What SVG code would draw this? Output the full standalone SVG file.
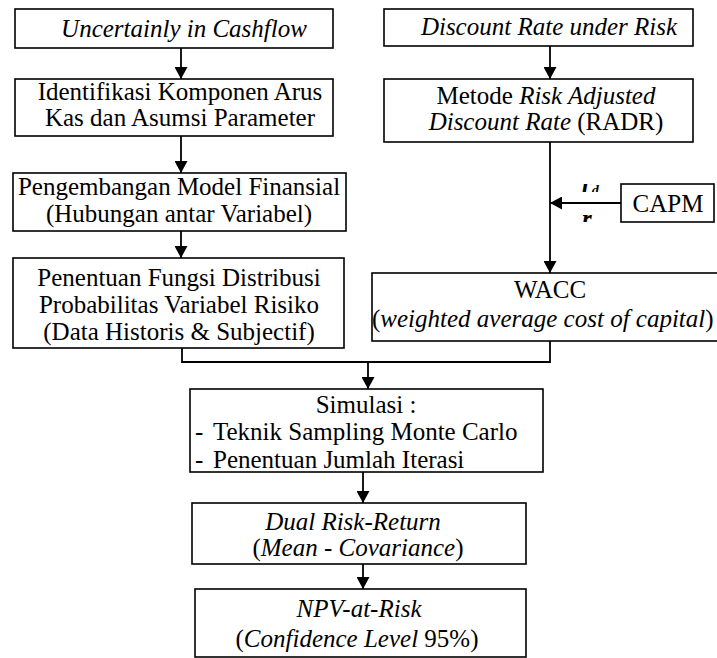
<svg xmlns="http://www.w3.org/2000/svg" width="717" height="658" viewBox="0 0 717 658">
<style>
.box{fill:#fff;stroke:#000;stroke-width:1.6}
.t{font-family:'Liberation Serif','Times New Roman',serif;font-size:25px;fill:#000;text-anchor:middle}
.l{text-anchor:start}
.i{font-style:italic}
.c{fill:none;stroke:#000;stroke-width:1.8}
</style>
<defs>
<marker id="ah" markerUnits="userSpaceOnUse" markerWidth="13" markerHeight="13" viewBox="0 0 12 13" refX="12" refY="6.5" orient="auto">
<path d="M0,0 L12,6.5 L0,13 z" fill="#000"/>
</marker>
<clipPath id="clipTop"><rect x="570" y="184" width="40" height="8"/></clipPath>
<clipPath id="clipBot"><rect x="570" y="211" width="40" height="11"/></clipPath>
</defs>

<g id="connectors">
<line class="c" x1="181" y1="48" x2="181" y2="79" marker-end="url(#ah)"/>
<line class="c" x1="181" y1="136" x2="181" y2="173" marker-end="url(#ah)"/>
<line class="c" x1="181" y1="231" x2="181" y2="258" marker-end="url(#ah)"/>
<line class="c" x1="550" y1="46" x2="550" y2="79" marker-end="url(#ah)"/>
<line class="c" x1="550" y1="142" x2="550" y2="273" marker-end="url(#ah)"/>
<line class="c" x1="621" y1="203" x2="550" y2="203" marker-end="url(#ah)"/>
<polyline class="c" points="182,348 182,362 550,362 550,341"/>
<line class="c" x1="368" y1="362" x2="368" y2="389" marker-end="url(#ah)"/>
<line class="c" x1="363" y1="472" x2="363" y2="503" marker-end="url(#ah)"/>
<line class="c" x1="363" y1="564" x2="363" y2="589" marker-end="url(#ah)"/>
<g clip-path="url(#clipTop)"><text class="t i l" x="582" y="192" font-weight="bold" font-size="22">r<tspan font-size="14" dy="3">d</tspan></text></g>
<g clip-path="url(#clipBot)"><text class="t i l" x="582" y="227" font-weight="bold" font-size="22">r<tspan font-size="14" dy="3">e</tspan></text></g>
</g>

<g id="uncertainty">
<rect class="box" x="15" y="9" width="318" height="39"/>
<text class="t i" x="184" y="37">Uncertainly in Cashflow</text>
</g>
<g id="identifikasi">
<rect class="box" x="15" y="79" width="318" height="57"/>
<text class="t" x="180" y="100">Identifikasi Komponen Arus</text>
<text class="t" x="180" y="126">Kas dan Asumsi Parameter</text>
</g>
<g id="pengembangan">
<rect class="box" x="13" y="173" width="333" height="58"/>
<text class="t" x="179" y="195">Pengembangan Model Finansial</text>
<text class="t" x="179" y="222">(Hubungan antar Variabel)</text>
</g>
<g id="penentuan">
<rect class="box" x="13" y="258" width="331" height="90"/>
<text class="t" x="179" y="286">Penentuan Fungsi Distribusi</text>
<text class="t" x="179" y="313">Probabilitas Variabel Risiko</text>
<text class="t" x="179" y="340">(Data Historis &amp; Subjectif)</text>
</g>
<g id="discount">
<rect class="box" x="384" y="9" width="309" height="37"/>
<text class="t i" x="549" y="35">Discount Rate under Risk</text>
</g>
<g id="radr">
<rect class="box" x="384" y="79" width="309" height="63"/>
<text class="t" x="546" y="104">Metode <tspan font-style="italic">Risk Adjusted</tspan></text>
<text class="t" x="546" y="130"><tspan font-style="italic">Discount Rate</tspan> (RADR)</text>
</g>
<g id="capm">
<rect class="box" x="621" y="184" width="93" height="38"/>
<text class="t" x="668" y="212">CAPM</text>
</g>
<g id="wacc">
<rect class="box" x="372" y="273" width="360" height="68"/>
<text class="t" x="550" y="298">WACC</text>
<text class="t l" x="372" y="327">(<tspan font-style="italic">weighted average cost of capital</tspan>)</text>
</g>
<g id="simulasi">
<rect class="box" x="190" y="389" width="353" height="83"/>
<text class="t" x="366" y="413">Simulasi :</text>
<text class="t l" x="195" y="440">-<tspan x="213">Teknik Sampling Monte Carlo</tspan></text>
<text class="t l" x="195" y="468">-<tspan x="213">Penentuan Jumlah Iterasi</tspan></text>
</g>
<g id="dual">
<rect class="box" x="192" y="503" width="334" height="61"/>
<text class="t i" x="353" y="530">Dual Risk-Return</text>
<text class="t" x="358" y="556">(<tspan font-style="italic">Mean - Covariance</tspan>)</text>
</g>
<g id="npv">
<rect class="box" x="195" y="589" width="331" height="68"/>
<text class="t i" x="359" y="617">NPV-at-Risk</text>
<text class="t" x="357" y="647">(<tspan font-style="italic">Confidence Level</tspan> 95%)</text>
</g>
</svg>
